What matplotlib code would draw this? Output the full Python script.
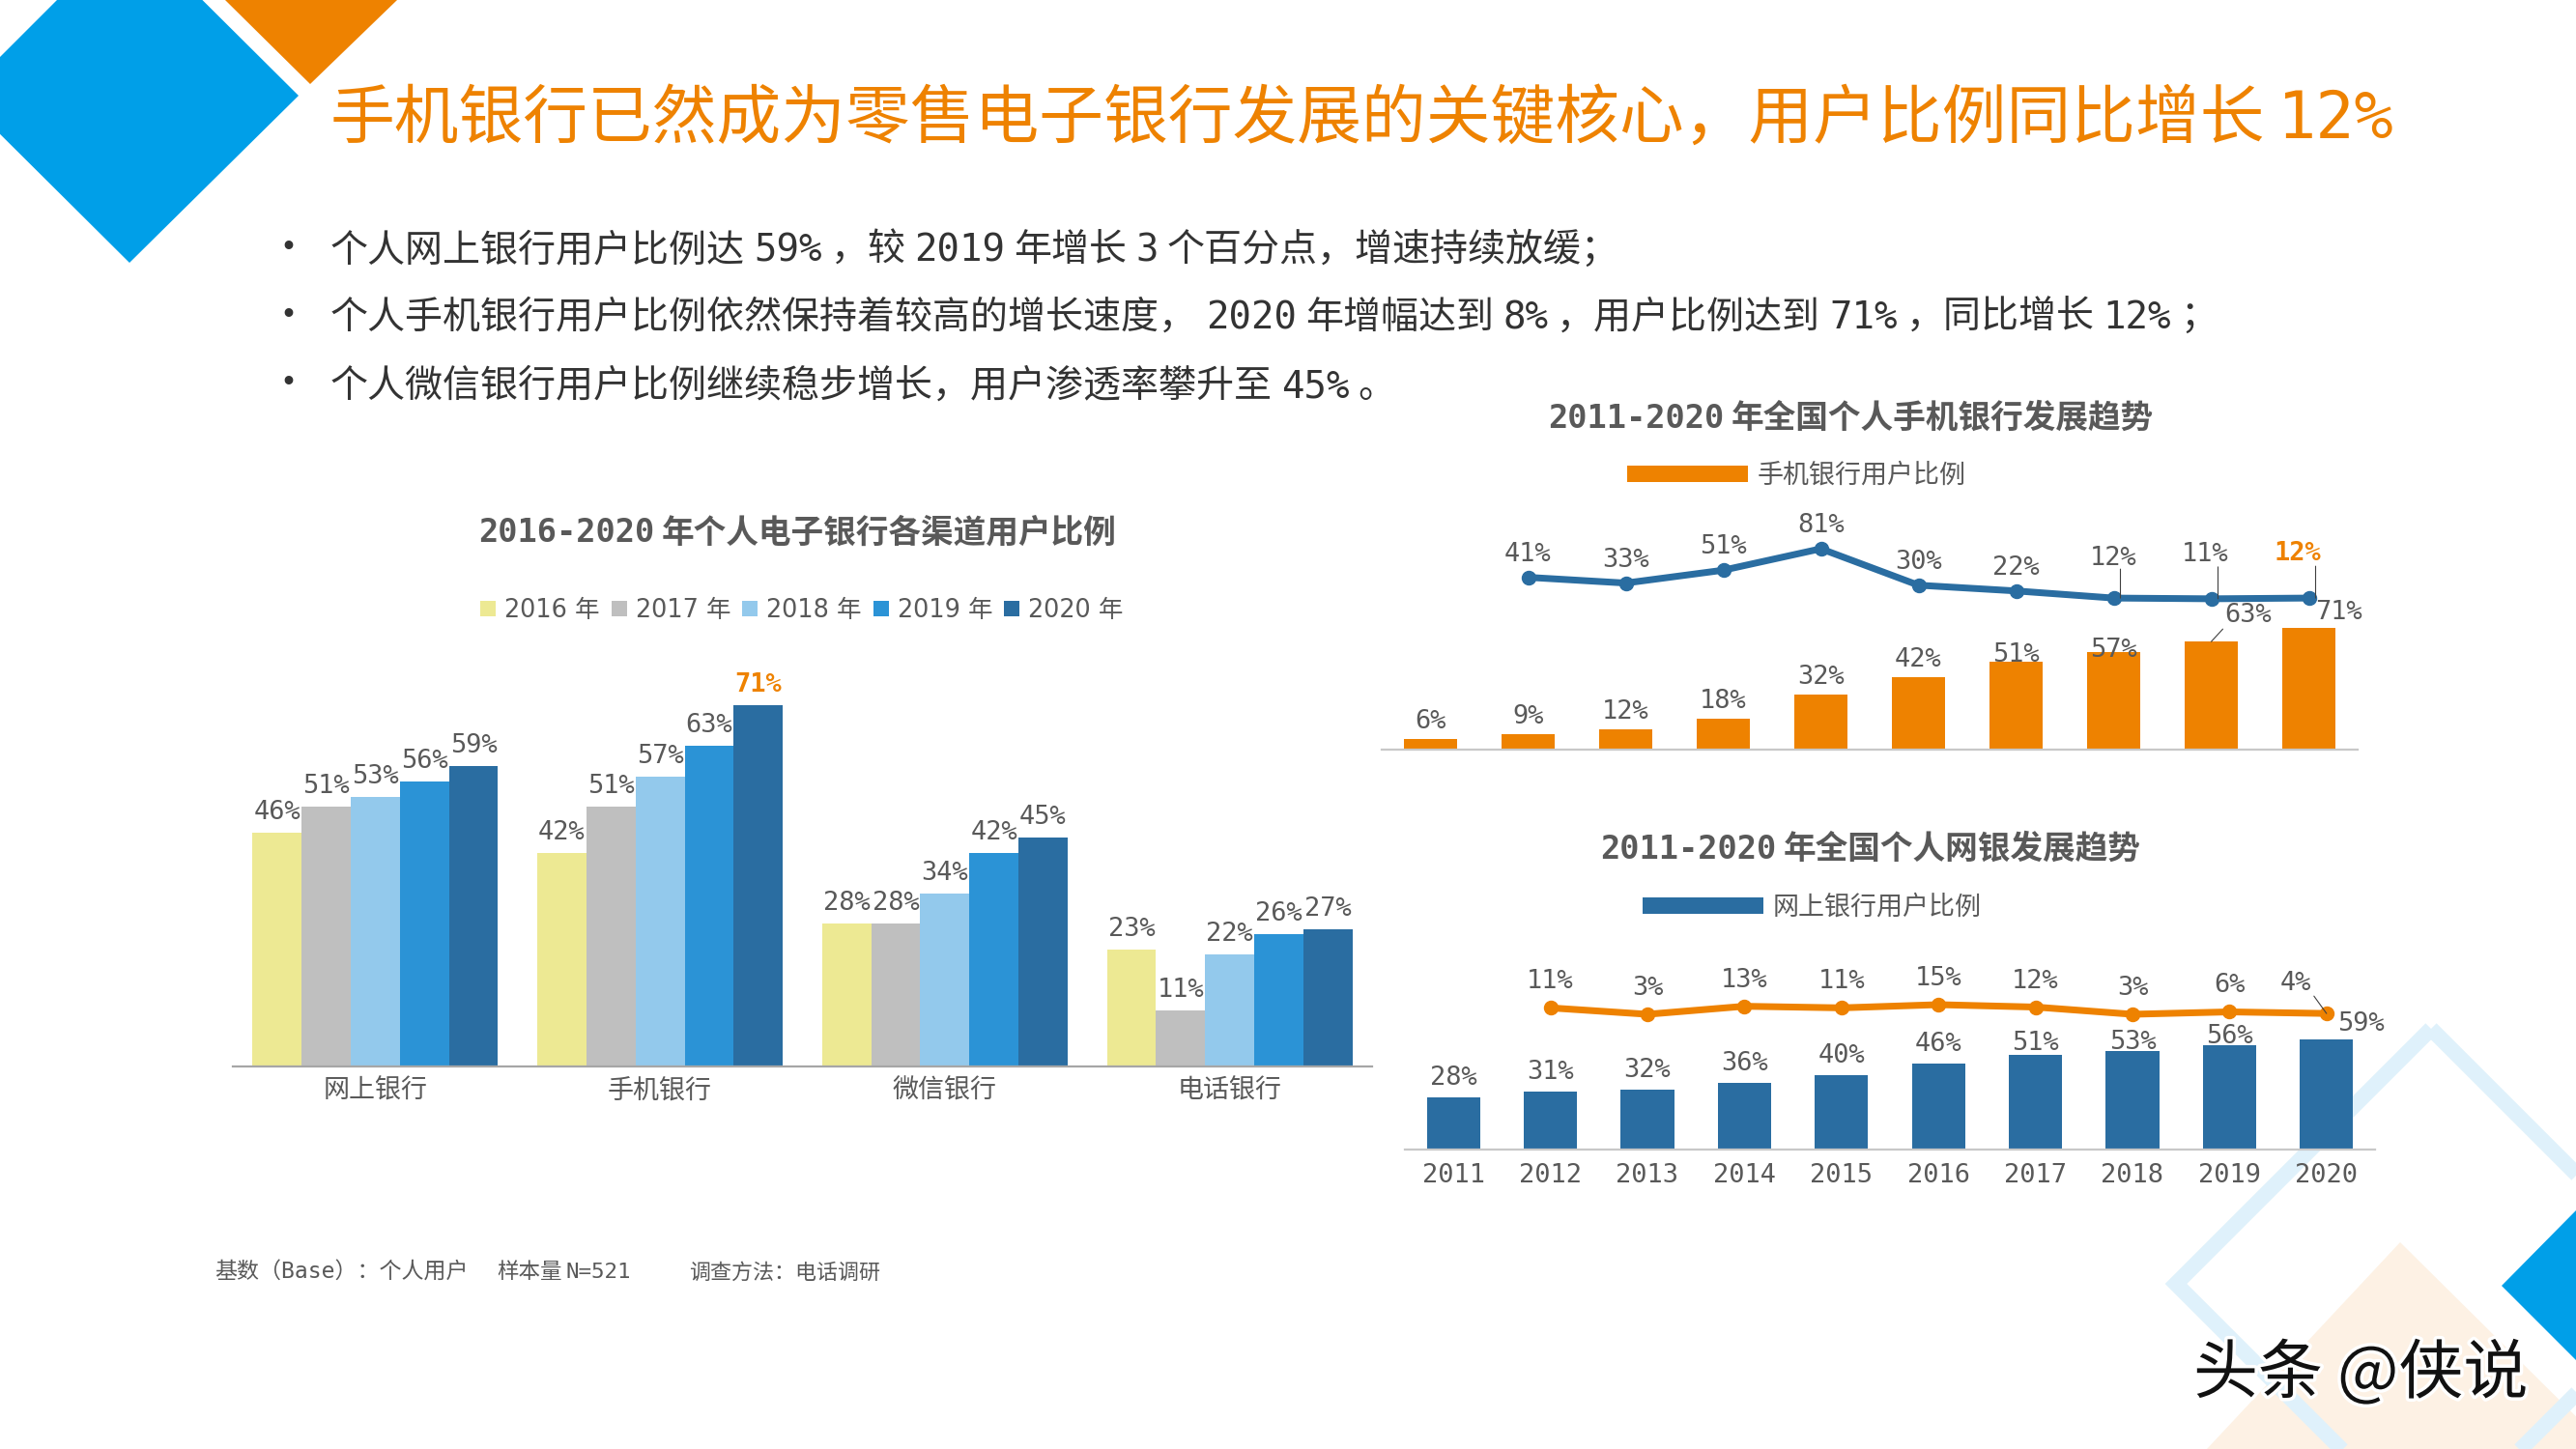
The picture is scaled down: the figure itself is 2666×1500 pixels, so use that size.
import matplotlib
matplotlib.use("Agg")
import matplotlib.pyplot as plt
import matplotlib.patheffects as pe
from matplotlib.patches import Polygon
from matplotlib.transforms import offset_copy

plt.rcParams['font.family'] = ['DejaVu Sans Mono', 'Noto Sans CJK SC', 'DejaVu Sans']

W, H = 2666, 1500
PT = 0.72   # px -> pt at dpi 100

TITLE = "手机银行已然成为零售电子银行发展的关键核心，用户比例同比增长 12%"
BULLETS = ["个人网上银行用户比例达 59% ，较 2019 年增长 3 个百分点，增速持续放缓；",
           "个人手机银行用户比例依然保持着较高的增长速度， 2020 年增幅达到 8% ，用户比例达到 71% ，同比增长 12% ；",
           "个人微信银行用户比例继续稳步增长，用户渗透率攀升至 45% 。"]

channels = ["网上银行", "手机银行", "微信银行", "电话银行"]
channel_years = ["2016 年", "2017 年", "2018 年", "2019 年", "2020 年"]
channel_values = [[46, 42, 28, 23],
                  [51, 51, 28, 11],
                  [53, 57, 34, 22],
                  [56, 63, 42, 26],
                  [59, 71, 45, 27]]

years = ["2011", "2012", "2013", "2014", "2015", "2016", "2017", "2018", "2019", "2020"]
mobile_users = [6, 9, 12, 18, 32, 42, 51, 57, 63, 71]
mobile_growth = [41, 33, 51, 81, 30, 22, 12, 11, 12]
web_users = [28, 31, 32, 36, 40, 46, 51, 53, 56, 59]
web_growth = [11, 3, 13, 11, 15, 12, 3, 6, 4]

ORANGE = '#EE8200'
DARKBLUE = '#2A6DA1'
GREY = '#595959'
channel_colors = ['#EDE993', '#BFBFBF', '#93C9EC', '#2B93D6', '#2A6DA1']


def make_axes(left, right, top, bottom):      #rect given in image pixels
    ax = fig.add_axes([left / W, 1 - bottom / H, (right - left) / W, (bottom - top) / H])
    ax.set_facecolor('none')
    for s in ['top', 'left', 'right']:
        ax.spines[s].set_visible(False)
    ax.spines['bottom'].set_color('#C8C8C8')
    ax.spines['bottom'].set_linewidth(1.6)
    ax.set_yticks([])
    ax.tick_params(axis='x', length=0)
    return ax


def spaced_text(x, y, text, gap, size, **kw):      #mono spaces are too wide, so each word gets its own text
    renderer = fig.canvas.get_renderer()
    for word in text.split(' '):
        t = bg.text(x, y + 0.36 * size, word, fontsize=size * PT, va='baseline', **kw)
        x += t.get_window_extent(renderer).width + gap


def label(ax, x, y, text, dx=0, dy=24, color=GREY, weight='normal'):
    ax.annotate(text, xy=(x, y), xytext=(dx, dy - 3), textcoords='offset pixels', ha='center', va='center',
                fontsize=27 * PT, color=color, fontweight=weight)


def leader(ax, x, y, x0, y0, dx, dy):      #thin line from a point near the mark
    ax.annotate('', xy=(x, y), xycoords=offset_copy(ax.transData, fig=fig, x=x0, y=y0, units='dots'),
                xytext=(dx, dy), textcoords='offset pixels',
                arrowprops=dict(arrowstyle='-', color='#404040', lw=0.8, shrinkA=0, shrinkB=0))


def combo_chart(rect, bar_px, line_range, users, growth, bar_color, line_color):
    left, right, top, bottom = rect
    ax = make_axes(left, right, top, bottom)
    xs = list(range(len(users)))
    ax.bar(xs, users, width=0.55, color=bar_color, label=None)
    ax.set_xlim(-0.5, len(users) - 0.5)
    ax.set_ylim(0, (bottom - top) / bar_px)
    ax2 = ax.twinx()
    ax2.set_facecolor('none')
    ax2.axis('off')
    ax2.plot(xs[1:], growth, color=line_color, lw=7 * PT, marker='o', ms=14 * PT, solid_capstyle='round')
    ax2.set_ylim(*line_range)
    ax2.set_xlim(ax.get_xlim())
    return ax, ax2


fig = plt.figure(figsize=(W / 100, H / 100), dpi=100, facecolor='white')

# background shapes and slide text
bg = fig.add_axes([0, 0, 1, 1], zorder=-1)
bg.set_xlim(0, W)
bg.set_ylim(H, 0)
bg.axis('off')
bg.add_patch(Polygon([(134, -75), (309, 99), (134, 272), (-40, 99)], fc='#009FE8', ec='none'))
bg.add_patch(Polygon([(233, 0), (411, 0), (321, 87)], fc=ORANGE, ec='none'))
bg.add_patch(Polygon([(2484, 1286), (2700, 1500), (2284, 1500)], fc='#FDF1E4', ec='none'))
bg.add_patch(Polygon([(2516, 1065), (2780, 1329), (2516, 1593), (2252, 1329)], fc='none', ec='#DFF1FB', lw=16 * PT))
bg.add_patch(Polygon([(2589, 1331), (2666, 1253), (2666, 1408)], fc='#009FE8', ec='none'))

spaced_text(342, 119, TITLE, 12, 66.7, color=ORANGE)
for y, line in zip([256, 326, 397], BULLETS):
    bg.text(298, y, "•", fontsize=30 * PT, color='#333333', va='center', ha='center')
    spaced_text(342, y, line, 9, 39, color='#333333')

spaced_text(495, 549, "2016-2020 年个人电子银行各渠道用户比例", 7, 33.7, color=GREY, fontweight='bold')
spaced_text(1602, 431, "2011-2020 年全国个人手机银行发展趋势", 7, 33.7, color=GREY, fontweight='bold')
spaced_text(1656, 877, "2011-2020 年全国个人网银发展趋势", 7, 33.7, color=GREY, fontweight='bold')

bg.text(222, 1317, "基数（Base）：个人用户", fontsize=23 * PT, color=GREY, va='center')
spaced_text(514, 1315, "样本量 N=521", 4, 22.5, color=GREY)
bg.text(713, 1317, "调查方法：电话调研", fontsize=22 * PT, color=GREY, va='center')

bg.text(2270, 1423, "头条 @侠说", fontsize=67 * PT, color='#111111', va='center', fontweight='medium',
        family=['Noto Sans CJK SC', 'DejaVu Sans'],
        path_effects=[pe.withStroke(linewidth=5, foreground='white')])

# left chart: grouped bars
ax = make_axes(241, 1420, 700, 1104)
bar_w = 0.1724
for i, (name, vals) in enumerate(zip(channel_years, channel_values)):
    xs = [g + (i - 2) * bar_w for g in range(len(channels))]
    ax.bar(xs, vals, width=bar_w, color=channel_colors[i], label=name)
    for g, v in enumerate(vals):
        if v == 71:
            label(ax, xs[g], v, f"{v}%", color=ORANGE, weight='bold')
        else:
            label(ax, xs[g], v, f"{v}%")
ax.set_xlim(-0.5, 3.5)
ax.set_ylim(0, 404 / 5.27)
ax.set_xticks(range(len(channels)), channels, fontsize=27 * PT, color=GREY)
ax.tick_params(axis='x', pad=9)
ax.spines['bottom'].set_color('#A6A6A6')
ax.legend(loc='center', bbox_to_anchor=(830 / W, 1 - 632 / H), bbox_transform=fig.transFigure, ncol=5,
          frameon=False, prop=dict(family=['DejaVu Sans', 'Noto Sans CJK SC'], size=25.5 * PT), labelcolor=GREY,
          handlelength=0.63, handleheight=0.63, handletextpad=0.35, columnspacing=0.47, borderpad=0, borderaxespad=0)

# top right chart: mobile banking
ax, ax2 = combo_chart((1430, 2440, 500, 776), 1.775, (-200, -200 + 276 / 0.74), mobile_users, mobile_growth, ORANGE, DARKBLUE)
for i, v in enumerate(mobile_users):
    if v == 63:
        label(ax, i, v, f"{v}%", dx=38, dy=30)
        leader(ax, i, v, 0, 0, 12, 13)
    elif v == 71:
        label(ax, i, v, f"{v}%", dx=31, dy=19)
    elif v == 57:
        label(ax, i, v, f"{v}%", dy=5)
    elif v == 51:
        label(ax, i, v, f"{v}%", dy=10)
    else:
        label(ax, i, v, f"{v}%", dy=21)
for i, v in enumerate(mobile_growth):
    if i == 6:
        label(ax2, i + 1, v, f"{v}%", dy=44)
        leader(ax2, i + 1, v, 7, 0, 0, 30)
    elif i == 7:
        label(ax2, i + 1, v, f"{v}%", dx=-6, dy=49)
        leader(ax2, i + 1, v, 7, 0, 0, 33)
    elif i == 8:
        label(ax2, i + 1, v, f"{v}%", dx=-12, dy=49, color=ORANGE, weight='bold')
        leader(ax2, i + 1, v, 7, 0, 0, 33)
    else:
        label(ax2, i + 1, v, f"{v}%", dy=27)
ax.set_xticks([])
ax.bar([0], [0], color=ORANGE, label="手机银行用户比例")
ax.legend(loc='center left', bbox_to_anchor=(1684 / W, 1 - 493 / H), bbox_transform=fig.transFigure,
          frameon=False, fontsize=27 * PT, labelcolor=GREY, handlelength=4.63, handleheight=0.55,
          handletextpad=0.37, borderpad=0, borderaxespad=0)

# bottom right chart: web banking
ax, ax2 = combo_chart((1454, 2458, 1000, 1190), 1.93, (-165.7, -165.7 + 190 / 0.83), web_users, web_growth, DARKBLUE, ORANGE)
for i, v in enumerate(web_users):
    if v == 59:
        label(ax, i, v, f"{v}%", dx=36, dy=19)
    elif v in (53, 56):
        label(ax, i, v, f"{v}%", dy=12)
    elif v == 51:
        label(ax, i, v, f"{v}%", dy=15)
    else:
        label(ax, i, v, f"{v}%", dy=23)
for i, v in enumerate(web_growth):
    if i == 8:
        label(ax2, i + 1, v, f"{v}%", dx=-32, dy=34)
        leader(ax2, i + 1, v, 0, 0, -13, 18)
    else:
        label(ax2, i + 1, v, f"{v}%", dy=30)
ax.set_xticks(range(len(years)), years, fontsize=27 * PT, color=GREY)
ax.tick_params(axis='x', pad=10)
ax.bar([0], [0], color=DARKBLUE, label="网上银行用户比例")
ax.legend(loc='center left', bbox_to_anchor=(1700 / W, 1 - 940 / H), bbox_transform=fig.transFigure,
          frameon=False, fontsize=27 * PT, labelcolor=GREY, handlelength=4.63, handleheight=0.55,
          handletextpad=0.37, borderpad=0, borderaxespad=0)

fig.savefig("out.png", dpi=100)
